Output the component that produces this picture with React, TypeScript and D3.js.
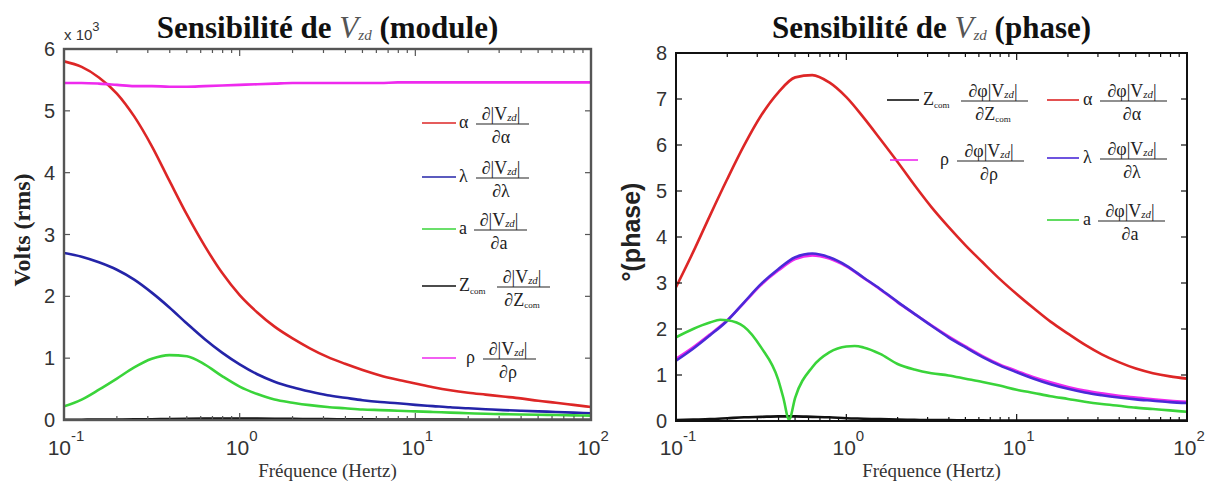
import React from 'react';
import * as d3 from 'd3';

// ---------- data ----------
const FREQ = [0.1, 0.126, 0.158, 0.2, 0.251, 0.316, 0.398, 0.501, 0.631, 0.794, 1, 1.26, 1.58, 2, 2.51, 3.16, 3.98, 5.01, 6.31, 7.94, 10, 12.6, 15.8, 20, 25.1, 31.6, 39.8, 50.1, 63.1, 79.4, 100];

// Module (x 10^3)
const MOD_ALPHA = [5.80, 5.71, 5.54, 5.28, 4.91, 4.43, 3.87, 3.32, 2.82, 2.38, 2.02, 1.74, 1.51, 1.32, 1.16, 1.02, 0.91, 0.81, 0.72, 0.65, 0.59, 0.53, 0.48, 0.44, 0.41, 0.38, 0.35, 0.31, 0.28, 0.245, 0.21];
const MOD_LAMBDA = [2.70, 2.64, 2.55, 2.43, 2.27, 2.06, 1.82, 1.56, 1.31, 1.09, 0.90, 0.74, 0.62, 0.53, 0.46, 0.40, 0.36, 0.32, 0.29, 0.27, 0.245, 0.225, 0.205, 0.19, 0.175, 0.16, 0.15, 0.14, 0.13, 0.12, 0.11];
const MOD_A = [0.22, 0.33, 0.49, 0.67, 0.85, 0.99, 1.05, 1.03, 0.90, 0.71, 0.54, 0.42, 0.33, 0.28, 0.24, 0.21, 0.19, 0.17, 0.16, 0.15, 0.14, 0.13, 0.12, 0.11, 0.10, 0.095, 0.09, 0.085, 0.08, 0.075, 0.07];
const MOD_ZCOM = [0.004, 0.005, 0.006, 0.008, 0.010, 0.013, 0.017, 0.020, 0.022, 0.023, 0.023, 0.022, 0.020, 0.018, 0.016, 0.014, 0.012, 0.010, 0.009, 0.008, 0.007, 0.006, 0.006, 0.005, 0.005, 0.005, 0.004, 0.004, 0.004, 0.004, 0.004];
const MOD_RHO = [5.45, 5.45, 5.44, 5.42, 5.40, 5.40, 5.39, 5.39, 5.40, 5.41, 5.42, 5.43, 5.44, 5.45, 5.45, 5.45, 5.45, 5.45, 5.45, 5.46, 5.46, 5.46, 5.46, 5.46, 5.46, 5.46, 5.46, 5.46, 5.46, 5.46, 5.46];

// Phase (degrees)
const PH_ALPHA = [2.91, 3.67, 4.46, 5.26, 5.99, 6.64, 7.14, 7.47, 7.52, 7.36, 7.04, 6.60, 6.13, 5.63, 5.13, 4.65, 4.22, 3.82, 3.45, 3.09, 2.76, 2.45, 2.16, 1.90, 1.66, 1.45, 1.28, 1.14, 1.04, 0.97, 0.92];
const PH_LAMBDA = [1.31, 1.57, 1.86, 2.18, 2.58, 2.98, 3.30, 3.56, 3.64, 3.56, 3.38, 3.12, 2.87, 2.59, 2.33, 2.07, 1.82, 1.60, 1.39, 1.21, 1.06, 0.92, 0.80, 0.70, 0.62, 0.56, 0.51, 0.47, 0.44, 0.41, 0.39];
const PH_RHO = [1.35, 1.60, 1.88, 2.19, 2.57, 2.96, 3.27, 3.52, 3.60, 3.53, 3.36, 3.11, 2.86, 2.58, 2.33, 2.08, 1.84, 1.62, 1.41, 1.23, 1.09, 0.95, 0.84, 0.74, 0.66, 0.60, 0.55, 0.51, 0.47, 0.44, 0.42];
const PH_ZCOM = [0.02, 0.03, 0.04, 0.06, 0.08, 0.09, 0.10, 0.10, 0.09, 0.08, 0.06, 0.05, 0.04, 0.03, 0.025, 0.02, 0.02, 0.015, 0.015, 0.01, 0.01, 0.01, 0.01, 0.01, 0.01, 0.01, 0.01, 0.01, 0.01, 0.01, 0.01];
const PH_A_FREQ = [0.1, 0.126, 0.158, 0.182, 0.2, 0.251, 0.316, 0.398, 0.427, 0.461, 0.501, 0.631, 0.794, 1, 1.12, 1.26, 1.58, 2, 2.51, 3.16, 3.98, 5.01, 6.31, 7.94, 10, 12.6, 15.8, 20, 25.1, 31.6, 39.8, 50.1, 63.1, 79.4, 100];
const PH_A = [1.82, 2.00, 2.14, 2.20, 2.19, 2.05, 1.60, 0.90, 0.50, 0.03, 0.51, 1.17, 1.49, 1.62, 1.63, 1.60, 1.46, 1.24, 1.12, 1.04, 0.99, 0.92, 0.85, 0.77, 0.68, 0.61, 0.54, 0.48, 0.42, 0.37, 0.33, 0.29, 0.26, 0.23, 0.20];

const X_TICK_EXP = [-1, 0, 1, 2];
const MOD_Y_TICKS = [0, 1, 2, 3, 4, 5, 6];
const PH_Y_TICKS = [0, 1, 2, 3, 4, 5, 6, 7, 8];

const TITLE_MOD = ['Sensibilité de ', 'V', 'zd', ' (module)'];
const TITLE_PH = ['Sensibilité de ', 'V', 'zd', ' (phase)'];
const X_LABEL = 'Fréquence (Hertz)';
const Y_LABEL_MOD = 'Volts (rms)';
const Y_LABEL_PH = '°(phase)';

// legend: [prefix, prefixSub, denominator, denominatorSub]
const MOD_LEGEND = [
  ['α', '', '∂α', ''],
  ['λ', '', '∂λ', ''],
  ['a', '', '∂a', ''],
  ['Z', 'com', '∂Z', 'com'],
  ['ρ', '', '∂ρ', ''],
];
const PH_LEGEND = [
  ['Z', 'com', '∂Z', 'com'],
  ['ρ', '', '∂ρ', ''],
  ['α', '', '∂α', ''],
  ['λ', '', '∂λ', ''],
  ['a', '', '∂a', ''],
];

// ---------- styles ----------
const RED = '#dd2626';
const BLUE = '#2424a8';
const GREEN = '#3ad43a';
const MAGENTA = '#ee2aee';
const BLACK = '#111111';
const PURPLE_BLUE = '#4a2ad8';

const SERIF = '"Liberation Serif", "Times New Roman", serif';
const SANS = '"Liberation Sans", Arial, sans-serif';

type Box = { x0: number; x1: number; y0: number; y1: number };

function Fraction({ x, y, prefix, prefixSub, num, den, denSub, fs }: any) {
  const pw = prefix === 'Z' ? 13 : prefix === 'ρ' ? 11 : prefix === 'a' ? 9 : 11;
  const subw = prefixSub ? 19 : 0;
  const fx = x + pw + subw + 3;
  const numW = num === 'phi' ? 70 : 56;
  const cx = fx + numW / 2;
  return (
    <g fontFamily={SERIF} fill="#222">
      <text x={x} y={y + 5} fontSize={fs}>
        {prefix}
        {prefixSub ? <tspan fontSize={fs * 0.5} dy={3}>{prefixSub}</tspan> : null}
      </text>
      <text x={cx} y={y - 3} fontSize={fs} textAnchor="middle">
        {num === 'phi' ? '∂φ|V' : '∂|V'}
        <tspan fontSize={fs * 0.6} fontStyle="italic" dy={1}>zd</tspan>
        <tspan dy={-1}>|</tspan>
      </text>
      <line x1={fx + 3} x2={fx + numW} y1={y + 1} y2={y + 1} stroke="#222" strokeWidth={1.2} />
      <text x={cx} y={y + 20} fontSize={fs} textAnchor="middle">
        {den}
        {denSub ? <tspan fontSize={fs * 0.5} dy={2}>{denSub}</tspan> : null}
      </text>
    </g>
  );
}

function Panel({ box, yMax, yTicks, series, frame, frameW, title, yLabel, yLabelFont, yLabelPos, yLabelSize, children }: any) {
  const b: Box = box;
  const x = d3.scaleLog().domain([0.1, 100]).range([b.x0, b.x1]);
  const y = d3.scaleLinear().domain([0, yMax]).range([b.y1, b.y0]);
  const line = d3
    .line<[number, number]>()
    .x((d) => x(d[0]))
    .y((d) => y(d[1]))
    .curve(d3.curveMonotoneX);
  const allTicks = x.ticks();
  const id = 'clip' + b.x0;
  const cx = (b.x0 + b.x1) / 2;
  return (
    <g>
      <defs>
        <clipPath id={id}>
          <rect x={b.x0} y={b.y0 - 2} width={b.x1 - b.x0} height={b.y1 - b.y0 + 4} />
        </clipPath>
      </defs>
      <g clipPath={`url(#${id})`}>
        {series.map((s: any, i: number) => (
          <path
            key={i}
            d={line(s.f.map((f: number, k: number) => [f, s.v[k]]) as any) || ''}
            fill="none"
            stroke={s.color}
            strokeWidth={2.6}
            strokeLinejoin="round"
          />
        ))}
      </g>
      <rect x={b.x0} y={b.y0} width={b.x1 - b.x0} height={b.y1 - b.y0} fill="none" stroke={frame} strokeWidth={frameW} />
      {allTicks.map((t: number, i: number) => {
        const major = Math.abs(Math.log10(t) - Math.round(Math.log10(t))) < 1e-6;
        const len = major ? 7 : 4;
        const xx = x(t);
        return (
          <g key={i} stroke={frame} strokeWidth={1.2}>
            <line x1={xx} x2={xx} y1={b.y1} y2={b.y1 - len} />
            <line x1={xx} x2={xx} y1={b.y0} y2={b.y0 + len} />
          </g>
        );
      })}
      {yTicks.map((t: number) => (
        <g key={t} stroke={frame} strokeWidth={1.2}>
          <line x1={b.x0} x2={b.x0 + 6} y1={y(t)} y2={y(t)} />
          <line x1={b.x1} x2={b.x1 - 6} y1={y(t)} y2={y(t)} />
        </g>
      ))}
      {yTicks.map((t: number) => (
        <text key={'l' + t} x={b.x0 - 9} y={y(t) + 7} fontFamily={SANS} fontSize={20} textAnchor="end" fill="#333">
          {t}
        </text>
      ))}
      {X_TICK_EXP.map((e) => (
        <text key={'x' + e} x={x(Math.pow(10, e)) + 2} y={455} fontFamily={SANS} fontSize={21} textAnchor="middle" fill="#333">
          10
          <tspan fontSize={15} dy={-14}>{e}</tspan>
        </text>
      ))}
      <text x={cx} y={477} fontFamily={SERIF} fontSize={19} textAnchor="middle" fill="#333">
        {X_LABEL}
      </text>
      <text x={cx} y={38} fontFamily={SERIF} fontSize={31} fontWeight="bold" textAnchor="middle" fill="#111">
        {title[0]}
        <tspan fontStyle="italic" fontWeight="normal" fill="#555">{title[1]}</tspan>
        <tspan fontStyle="italic" fontWeight="normal" fontSize={15} dy={2} fill="#555">{title[2]}</tspan>
        <tspan dy={-2}>{title[3]}</tspan>
      </text>
      <text
        transform={`translate(${yLabelPos[0]},${yLabelPos[1]}) rotate(-90)`}
        fontFamily={yLabelFont}
        fontSize={yLabelSize}
        fontWeight="bold"
        textAnchor="middle"
        fill="#222"
      >
        {yLabel}
      </text>
      {children}
    </g>
  );
}

export default function App() {
  const LB: Box = { x0: 64, x1: 591, y0: 49, y1: 420 };
  const RB: Box = { x0: 676, x1: 1187, y0: 53, y1: 421 };

  const modSeries = [
    { f: FREQ, v: MOD_ALPHA, color: RED },
    { f: FREQ, v: MOD_LAMBDA, color: BLUE },
    { f: FREQ, v: MOD_A, color: GREEN },
    { f: FREQ, v: MOD_ZCOM, color: BLACK },
    { f: FREQ, v: MOD_RHO, color: MAGENTA },
  ];
  const modColors = [RED, BLUE, GREEN, BLACK, MAGENTA];
  const modRows = [123, 177, 229, 286, 358];

  const phSeries = [
    { f: FREQ, v: PH_ZCOM, color: BLACK },
    { f: FREQ, v: PH_ALPHA, color: RED },
    { f: FREQ, v: PH_RHO, color: MAGENTA },
    { f: FREQ, v: PH_LAMBDA, color: PURPLE_BLUE },
    { f: PH_A_FREQ, v: PH_A, color: GREEN },
  ];
  const phColors = [BLACK, MAGENTA, RED, PURPLE_BLUE, GREEN];
  const phPos = [
    [887, 100],
    [890, 160],
    [1047, 100],
    [1047, 158],
    [1047, 220],
  ];

  return (
    <svg width={1223} height={484} style={{ position: 'absolute', left: 0, top: 0, background: '#fff' }}>
      <rect width={1223} height={484} fill="#fff" />
      <Panel
        box={LB}
        yMax={6}
        yTicks={MOD_Y_TICKS}
        series={modSeries}
        frame="#555"
        frameW={2.4}
        title={TITLE_MOD}
        yLabel={Y_LABEL_MOD}
        yLabelFont={SERIF}
        yLabelPos={[30, 230]}
        yLabelSize={24}
      >
        <text x={64} y={40} fontFamily={SANS} fontSize={15} fill="#333">
          x 10<tspan fontSize={13} dy={-9}>3</tspan>
        </text>
        {MOD_LEGEND.map((l, i) => (
          <g key={i}>
            <line x1={422} x2={456} y1={modRows[i]} y2={modRows[i]} stroke={modColors[i]} strokeWidth={1.6} />
            <Fraction x={l[0] === 'ρ' ? 466 : 459} y={modRows[i]} prefix={l[0]} prefixSub={l[1]} num="mod" den={l[2]} denSub={l[3]} fs={18} />
          </g>
        ))}
      </Panel>
      <Panel
        box={RB}
        yMax={8}
        yTicks={PH_Y_TICKS}
        series={phSeries}
        frame="#111"
        frameW={2}
        title={TITLE_PH}
        yLabel={Y_LABEL_PH}
        yLabelFont={SANS}
        yLabelPos={[640, 232]}
        yLabelSize={25}
      >
        {PH_LEGEND.map((l, i) => (
          <g key={i}>
            <line
              x1={phPos[i][0]}
              x2={phPos[i][0] + (i === 1 ? 28 : 32)}
              y1={phPos[i][1]}
              y2={phPos[i][1]}
              stroke={phColors[i]}
              strokeWidth={1.6}
            />
            <Fraction
              x={i === 1 ? 940 : phPos[i][0] + 36}
              y={phPos[i][1]}
              prefix={l[0]}
              prefixSub={l[1]}
              num="phi"
              den={l[2]}
              denSub={l[3]}
              fs={18}
            />
          </g>
        ))}
      </Panel>
    </svg>
  );
}
